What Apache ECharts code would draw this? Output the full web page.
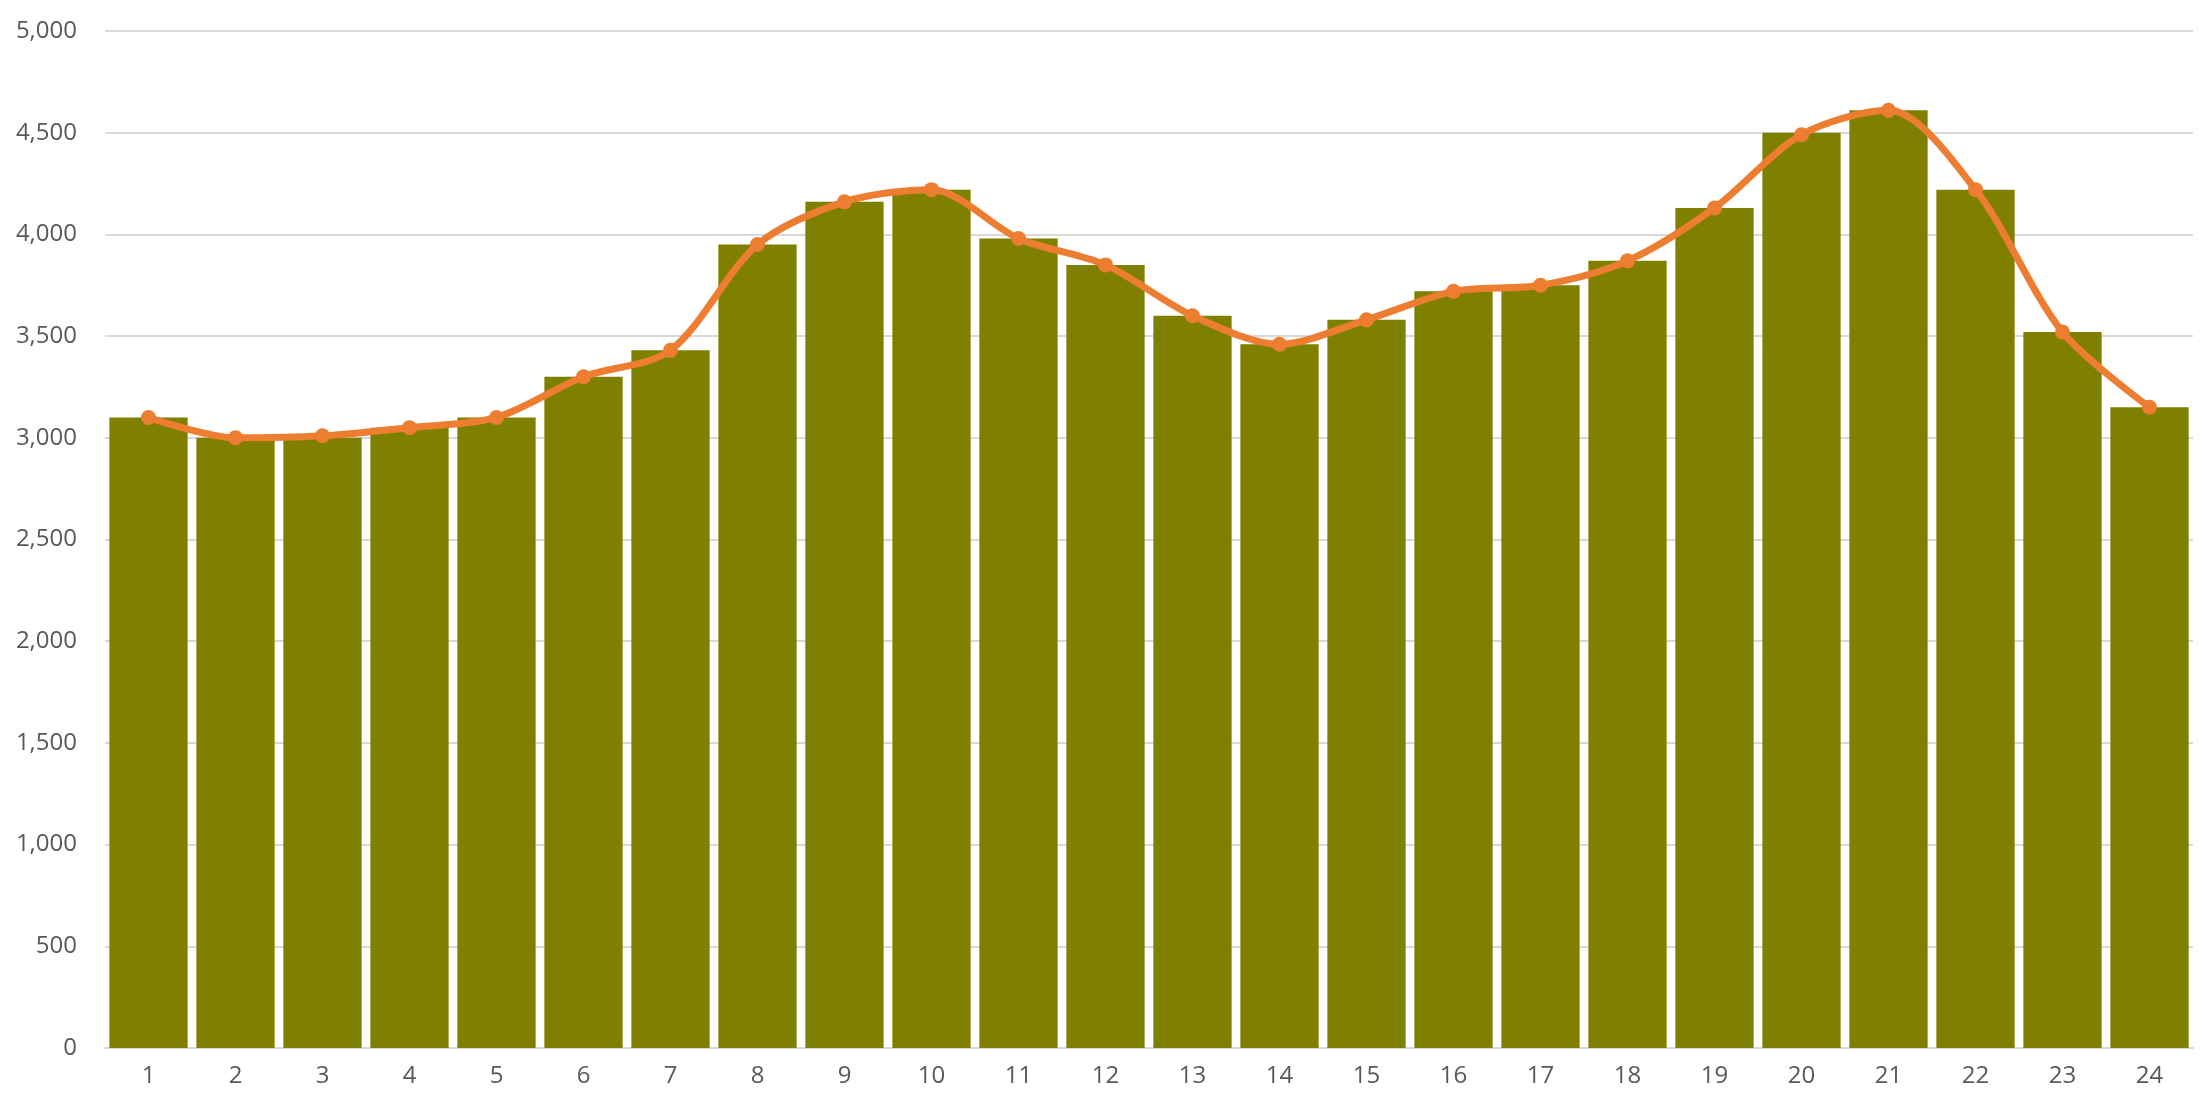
<!DOCTYPE html>
<html>
<head>
<meta charset="utf-8">
<script src="https://cdn.jsdelivr.net/npm/echarts@6/dist/echarts.min.js"></script>
<style>html,body{margin:0;padding:0;background:#fff}#chart{width:2205px;height:1115px}</style>
</head>
<body>
<div id="chart"></div>
<script>
var hours = ['1','2','3','4','5','6','7','8','9','10','11','12','13','14','15','16','17','18','19','20','21','22','23','24'];
var barValues = [3100, 3000, 3000, 3050, 3100, 3300, 3430, 3950, 4160, 4220, 3980, 3850, 3600, 3460, 3580, 3720, 3750, 3870, 4130, 4500, 4610, 4220, 3520, 3150];
var lineValues = [3100, 3000, 3010, 3050, 3100, 3300, 3430, 3950, 4160, 4220, 3980, 3850, 3600, 3460, 3580, 3720, 3750, 3870, 4130, 4490, 4610, 4220, 3520, 3150];

var chart = echarts.init(document.getElementById('chart'));
var option = {
    animation: false,
    grid: { left: 105, right: 12, top: 31, bottom: 67 },
    xAxis: {
        type: 'category',
        data: hours,
        axisTick: { show: false },
        axisLine: { lineStyle: { color: '#d9d9d9', width: 2 } },
        axisLabel: { color: '#595959', fontSize: 24, fontFamily: 'Open Sans', margin: 16 }
    },
    yAxis: {
        type: 'value',
        min: 0,
        max: 5000,
        interval: 500,
        axisLine: { show: false },
        axisTick: { show: false },
        axisLabel: { color: '#595959', fontSize: 24, fontFamily: 'Open Sans', margin: 28 },
        splitLine: { lineStyle: { color: '#d9d9d9', width: 2 } }
    },
    series: [
        {
            type: 'bar',
            data: barValues,
            barCategoryGap: '10%',
            itemStyle: { color: '#808000' }
        },
        {
            type: 'line',
            data: lineValues,
            smooth: 0.3,
            symbol: 'circle',
            symbolSize: 15,
            lineStyle: { color: '#ED7D31', width: 7 },
            itemStyle: { color: '#ED7D31' }
        }
    ]
};
chart.setOption(option);
</script>
</body>
</html>
